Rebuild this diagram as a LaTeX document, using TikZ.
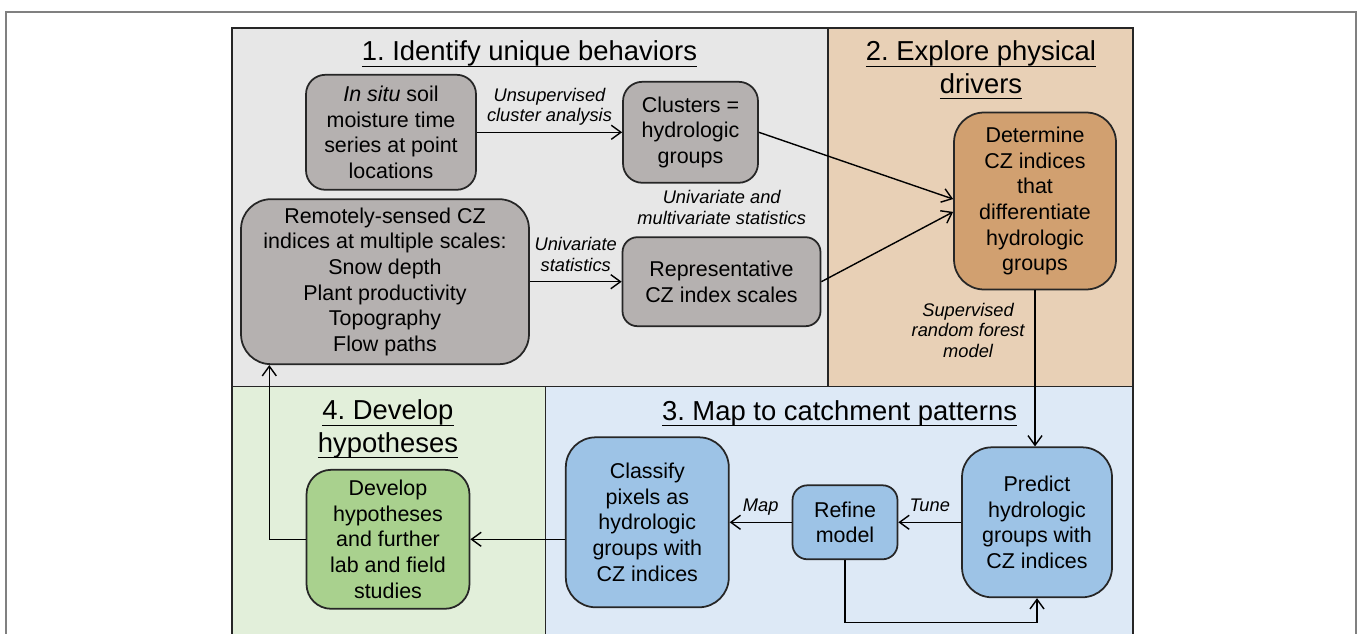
\documentclass[tikz,border=0pt]{standalone}
\usepackage{fontspec}
\setmainfont{Liberation Sans}
\usetikzlibrary{arrows.meta}
\frenchspacing
\newsavebox{\ulbox}
\newcommand{\uln}[1]{\sbox{\ulbox}{#1}\rlap{\rule[-3.4pt]{\wd\ulbox}{0.8pt}}\usebox{\ulbox}}
\definecolor{panelgray}{RGB}{231,231,231}
\definecolor{paneltan}{RGB}{232,208,182}
\definecolor{panelblue}{RGB}{221,233,246}
\definecolor{panelgreen}{RGB}{226,239,218}
\definecolor{boxgray}{RGB}{181,177,176}
\definecolor{boxtan}{RGB}{209,160,112}
\definecolor{boxblue}{RGB}{157,195,230}
\definecolor{boxgreen}{RGB}{169,209,142}
\tikzset{>={Straight Barb[length=5.5pt,width=8pt]},
    box/.style={
        draw=black!85,
        line width=1pt,
        align=center,
        inner sep=0pt,
        font=\fontsize{12.2}{14.6}\selectfont},
    lbl/.style={
        align=center,
        inner sep=0pt,
        outer sep=6pt,
        text depth=0pt,
        font=\itshape\fontsize{10.4}{11.8}\selectfont},
    head/.style={
        align=center,
        inner sep=0pt,
        font=\fontsize{15.6}{18.5}\selectfont},
    panel/.style={draw=black!85, line width=1.1pt},
    link/.style={->, line width=0.8pt},
    every edge/.style={
        draw,
        ->,
        auto,
        line width=0.8pt}}

\begin{document}
\begin{tikzpicture}[x=0.02cm, y=-0.02cm]
    \useasboundingbox (0,0) rectangle (1358,634);
    \fill[white] (0,0) rectangle (1358,634);
    \draw[black!50, line width=0.7pt] (6,660) -- (6,12) -- (1356,12) -- (1356,660);
    % the four steps
    \draw[panel, fill=panelgray] (232,28) rectangle (828,386.5);
    \draw[panel, fill=paneltan] (828,28) rectangle (1133,386.5);
    \draw[panel, fill=panelgreen] (232,386.5) rectangle (545.5,660);
    \draw[panel, fill=panelblue] (545.5,386.5) rectangle (1133,660);
    \node[head, anchor=base] (t1) at (529.5,61) {\uln{1. Identify unique behaviors}};
    \node[head] (t2) at (981,70.3) {\uln{2. Explore physical}\\\uln{drivers}};
    \node[head, anchor=base] (t3) at (839.5,420) {\uln{3. Map to catchment patterns}};
    \node[head] (t4) at (388,429.3) {\uln{4. Develop}\\\uln{hypotheses}};
    % boxes
    \node[box, fill=boxgray, minimum width=3.4cm, minimum height=2.3cm, rounded corners=11pt] (insitu) at (391,132.3) {\textit{In situ} soil\\moisture time\\series at point\\locations};
    \node[box, fill=boxgray, minimum width=2.7cm, minimum height=2.02cm, rounded corners=11pt] (clust) at (690.5,132.3) {Clusters =\\hydrologic\\groups};
    \node[box, fill=boxgray, minimum width=5.76cm, minimum height=3.3cm, rounded corners=17pt] (remote) at (385,281.7) {Remotely-sensed CZ\\indices at multiple scales:\\Snow depth\\Plant productivity\\Topography\\Flow paths};
    \node[box, fill=boxgray, minimum width=3.96cm, minimum height=1.78cm, rounded corners=8.5pt] (repr) at (721.5,281.7) {Representative\\CZ index scales};
    \node[box, fill=boxtan, minimum width=3.24cm, minimum height=3.54cm, rounded corners=17pt] (determ) at (1035,201) {Determine\\CZ indices\\that\\differentiate\\hydrologic\\groups};
    \node[box, fill=boxblue, minimum width=3cm, minimum height=3cm, rounded corners=17pt] (predict) at (1037,522.3) {Predict\\hydrologic\\groups with\\CZ indices};
    \node[box, fill=boxblue, minimum width=2.1cm, minimum height=1.48cm, rounded corners=8.5pt] (refine) at (845,522.3) {Refine\\model};
    \node[box, fill=boxblue, minimum width=3.26cm, minimum height=3.4cm, rounded corners=17pt] (classify) at (647.3,522.3) {Classify\\pixels as\\hydrologic\\groups with\\CZ indices};
    \node[box, fill=boxgreen, minimum width=3.26cm, minimum height=2.78cm, rounded corners=14pt] (develop) at (388,539.3) {Develop\\hypotheses\\and further\\lab and field\\studies};
    \node[lbl] (multi) at (721.7,207.5) {Univariate and\\multivariate statistics};
    \coordinate (lowc) at (1037,622.3);
    \coordinate (turn) at (269.3,539.3);
    % arrows
    \draw (insitu) edge node[lbl] {Unsupervised\\cluster analysis} (clust);
    \draw (remote) edge node[lbl] {Univariate\\statistics} (repr);
    \draw (clust.east) edge ([yshift=1.1pt]determ.west);
    \draw (repr.east) edge ([yshift=-6.2pt]determ.west);
    \draw (determ.south) edge node[lbl, swap, pos=0.255] {Supervised\\random forest\\model} (determ.south |- predict.north);
    \draw (predict) edge node[lbl, swap] {Tune} (refine);
    \draw (refine) edge node[lbl, swap] {Map} (classify);
    \draw[link] (refine.south) |- (lowc) -- (predict.south);
    \draw (classify.west |- develop) edge (develop);
    \draw[link] (develop.west) -- (turn) -- (turn |- remote.south);
\end{tikzpicture}
\end{document}
